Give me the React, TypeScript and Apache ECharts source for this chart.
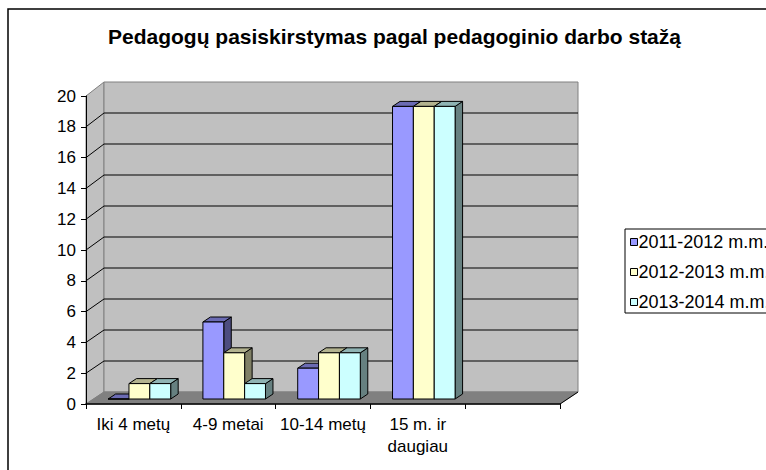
import React, { useEffect, useRef } from "react";
import * as echarts from "echarts";

const TITLE = "Pedagogų pasiskirstymas pagal pedagoginio darbo stažą";
const categories = ["Iki 4 metų", "4-9 metai", "10-14 metų", "15 m. ir\ndaugiau", ""];
const seriesNames = ["2011-2012 m.m.", "2012-2013 m.m.", "2013-2014 m.m."];
const values2011 = [0, 5, 2, 19];
const values2012 = [1, 3, 3, 19];
const values2013 = [1, 1, 3, 19];
const Y_MIN = 0;
const Y_MAX = 20;
const Y_STEP = 2;

const FONT = "'Liberation Sans', Arial, sans-serif";

const faces = [
  { front: "#9999FF", top: "#6B6BB3", side: "#4D4D80" },
  { front: "#FFFFCC", top: "#B3B38F", side: "#808066" },
  { front: "#CCFFFF", top: "#8FB3B3", side: "#668080" },
];

// 3D geometry
const WALL_DX = 18;
const WALL_DY = -12;
const WALL_DY_TOP_EXTRA = -2;
const BAR_SHIFT_X = 6;
const BAR_SHIFT_Y = -5;
const BAR_DX = 7.5;
const BAR_DY = -5;
const BAR_FRAC = 0.22;

function wallsRender(params: any, api: any) {
  const cs = params.coordSys;
  const x0 = cs.x;
  const x1 = cs.x + cs.width;
  const yF = (v: number) => api.coord([0, v])[1];
  const yB = (v: number) => yF(v) + WALL_DY + (WALL_DY_TOP_EXTRA * (v - Y_MIN)) / (Y_MAX - Y_MIN);
  const children: any[] = [];
  children.push({
    type: "polygon",
    shape: {
      points: [
        [x0, yF(Y_MAX)],
        [x0 + WALL_DX, yB(Y_MAX)],
        [x0 + WALL_DX, yB(Y_MIN)],
        [x0, yF(Y_MIN)],
      ],
    },
    style: { fill: "#C0C0C0", stroke: "#808080", lineWidth: 1 },
  });
  children.push({
    type: "rect",
    shape: { x: x0 + WALL_DX, y: yB(Y_MAX), width: x1 - x0, height: yB(Y_MIN) - yB(Y_MAX) },
    style: { fill: "#C0C0C0", stroke: "#808080", lineWidth: 1 },
  });
  for (let v = Y_MIN + Y_STEP; v < Y_MAX; v += Y_STEP) {
    children.push({
      type: "line",
      shape: { x1: x0 + WALL_DX, y1: yB(v), x2: x1 + WALL_DX, y2: yB(v) },
      style: { stroke: "#000", lineWidth: 1 },
    });
    children.push({
      type: "line",
      shape: { x1: x0, y1: yF(v), x2: x0 + WALL_DX, y2: yB(v) },
      style: { stroke: "#000", lineWidth: 1 },
    });
  }
  children.push({
    type: "polygon",
    shape: {
      points: [
        [x0, yF(Y_MIN)],
        [x1, yF(Y_MIN)],
        [x1 + WALL_DX, yB(Y_MIN)],
        [x0 + WALL_DX, yB(Y_MIN)],
      ],
    },
    style: { fill: "#808080", stroke: "#808080", lineWidth: 1 },
  });
  children.push({
    type: "line",
    shape: { x1: x1, y1: yF(Y_MIN), x2: x1 + WALL_DX, y2: yB(Y_MIN) },
    style: { stroke: "#000", lineWidth: 1 },
  });
  return { type: "group", children };
}

function makeBarRender(k: number) {
  return (params: any, api: any) => {
    const cat = api.value(0);
    const val = api.value(1);
    const [cx, yTop0] = api.coord([cat, val]);
    const yBase0 = api.coord([cat, 0])[1];
    const band = api.size([1, 0])[0];
    const w = band * BAR_FRAC;
    const left = cx - 1.5 * w + k * w + BAR_SHIFT_X;
    const right = left + w;
    const top = yTop0 + BAR_SHIFT_Y;
    const bottom = yBase0 + BAR_SHIFT_Y;
    const f = faces[k];
    const st = { stroke: "#000", lineWidth: 1, lineJoin: "round" };
    return {
      type: "group",
      children: [
        {
          type: "polygon",
          shape: {
            points: [
              [right, top],
              [right + BAR_DX, top + BAR_DY],
              [right + BAR_DX, bottom + BAR_DY],
              [right, bottom],
            ],
          },
          style: { ...st, fill: f.side },
        },
        {
          type: "polygon",
          shape: {
            points: [
              [left, top],
              [right, top],
              [right + BAR_DX, top + BAR_DY],
              [left + BAR_DX, top + BAR_DY],
            ],
          },
          style: { ...st, fill: f.top },
        },
        {
          type: "rect",
          shape: { x: left, y: top, width: w, height: bottom - top },
          style: { ...st, fill: f.front },
        },
      ],
    };
  };
}

export default function App() {
  const ref = useRef<HTMLDivElement>(null);
  useEffect(() => {
    if (!ref.current) return;
    const chart = echarts.init(ref.current, undefined, { renderer: "svg" });
    const seriesValues = [values2011, values2012, values2013];
    chart.setOption({
      animation: false,
      backgroundColor: "#fff",
      textStyle: { fontFamily: FONT },
      title: {
        text: TITLE,
        left: 108,
        top: 21,
        padding: [5, 0, 5, 0],
        textStyle: { fontFamily: FONT, fontSize: 21, fontWeight: "bold", color: "#000" },
      },
      legend: {
        data: seriesNames,
        orient: "vertical",
        left: 625,
        top: 229,
        padding: [3, 5, 1, 5],
        itemGap: 10,
        itemWidth: 7,
        itemHeight: 7,
        icon: "rect",
        selectedMode: false,
        borderColor: "#000",
        borderWidth: 1,
        backgroundColor: "#fff",
        itemStyle: { borderColor: "#000", borderWidth: 1 },
        textStyle: {
          fontFamily: FONT,
          fontSize: 18,
          color: "#000",
          lineHeight: 20,
          padding: [0, 0, 0, -4],
        },
      },
      graphic: [
        {
          type: "rect",
          shape: { x: 8, y: 9, width: 900, height: 700 },
          style: { fill: "none", stroke: "#000", lineWidth: 1.5 },
          silent: true,
        },
      ],
      grid: { left: 86, top: 96, width: 474, height: 308, containLabel: false },
      xAxis: {
        type: "category",
        data: categories,
        z: 5,
        axisLine: { lineStyle: { color: "#000", width: 1.5 } },
        axisTick: { show: true, length: 5, interval: 0, lineStyle: { color: "#000" } },
        axisLabel: {
          interval: 0,
          margin: 9,
          fontFamily: FONT,
          fontSize: 17,
          color: "#000",
          lineHeight: 22,
        },
        splitLine: { show: false },
      },
      yAxis: {
        type: "value",
        min: Y_MIN,
        max: Y_MAX,
        interval: Y_STEP,
        z: 5,
        axisLine: { show: true, lineStyle: { color: "#000", width: 1 } },
        axisTick: { show: true, length: 5, lineStyle: { color: "#000" } },
        axisLabel: { margin: 10, fontFamily: FONT, fontSize: 17, color: "#000" },
        splitLine: { show: false },
      },
      series: [
        {
          type: "custom",
          name: "walls",
          silent: true,
          z: 1,
          data: [[0, 0]],
          encode: { x: 0, y: 1 },
          renderItem: wallsRender,
        },
        ...seriesNames.map((name, k) => ({
          type: "custom",
          name,
          z: 2,
          silent: true,
          itemStyle: { color: faces[k].front },
          data: seriesValues[k].map((v, i) => [i, v]),
          encode: { x: 0, y: 1 },
          renderItem: makeBarRender(k),
        })),
      ],
    });
    return () => chart.dispose();
  }, []);
  return (
    <div
      ref={ref}
      style={{ position: "fixed", left: 0, top: 0, width: 766, height: 470 }}
    />
  );
}
